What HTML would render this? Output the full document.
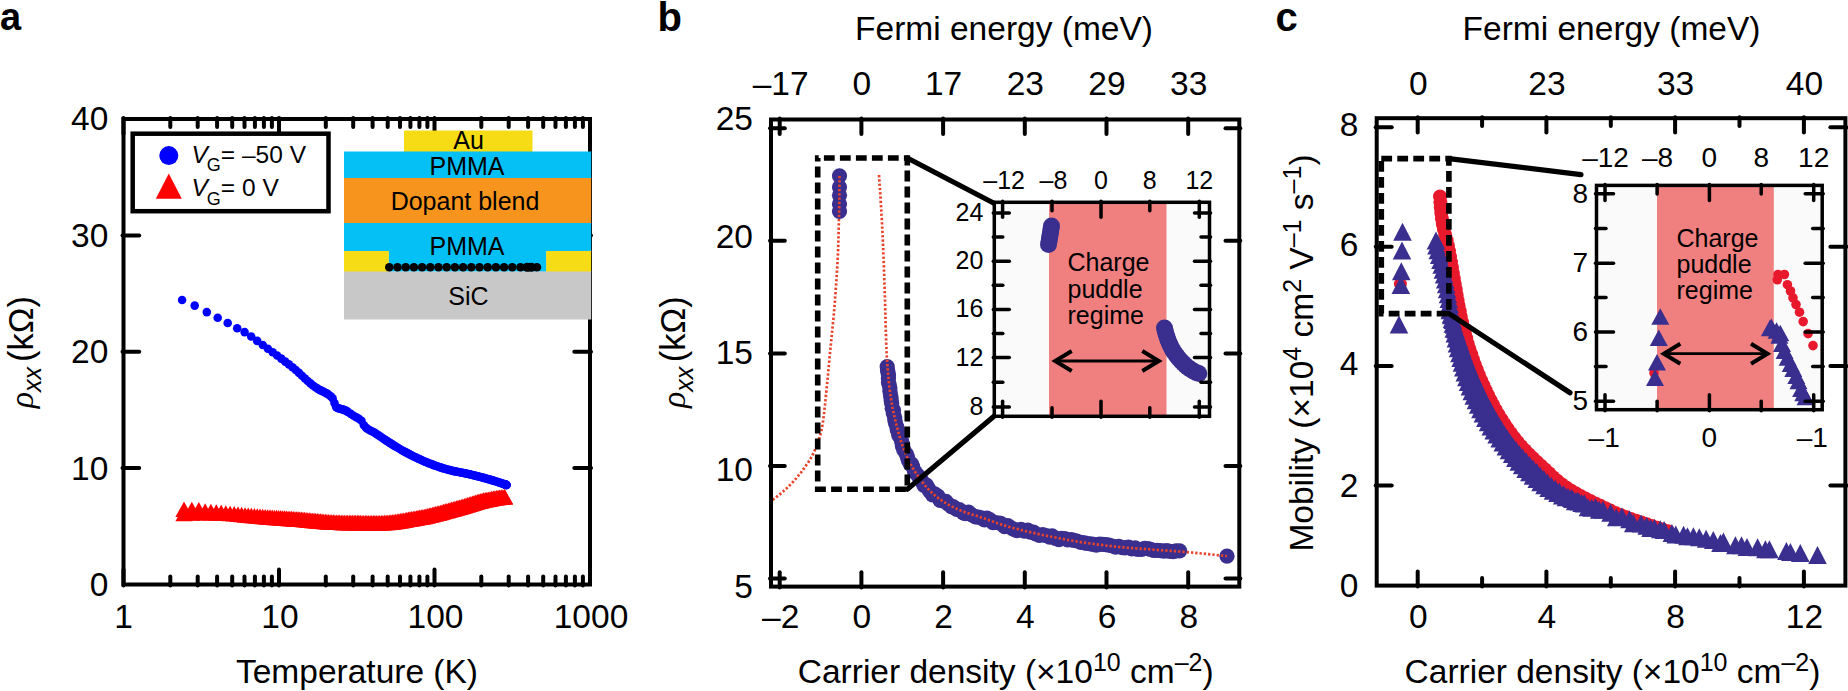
<!DOCTYPE html>
<html lang="en"><head><meta charset="utf-8"><title>Figure</title>
<style>html,body{margin:0;padding:0;background:#fff}svg{display:block}text{font-family:"Liberation Sans",sans-serif;fill:#000}.b{font-weight:bold}.i{font-style:italic}.s{font-family:"Liberation Serif",serif;font-style:italic}</style>
</head><body>
<svg width="1848" height="691" viewBox="0 0 1848 691">
<defs>
<path id="tr" d="M0,-7.75 L8.6,7.75 L-8.6,7.75 Z"/>
<path id="ts" d="M0,-8.5 L9,8 L-9,8 Z"/>
<circle id="cb" r="7.6"/>
<circle id="ci" r="8.5"/>
<circle id="cr" r="7"/>
<path id="tc" d="M0,-9 L9.3,9 L-9.3,9 Z"/>
<circle id="cs" r="4.8"/>
<circle id="ca" r="4.3"/>
</defs>
<rect width="1848" height="691" fill="#fff"/>
<text x="0" y="30" font-size="38" text-anchor="start" class="b">a</text>
<text x="657.5" y="30.5" font-size="40" text-anchor="start" class="b">b</text>
<text x="1275.5" y="30.5" font-size="40" text-anchor="start" class="b">c</text>
<g id="pa">
<g fill="#0000ff">
<use href="#ca" x="182.1" y="300"/>
<use href="#ca" x="194.7" y="305.6"/>
<use href="#ca" x="206.8" y="312.1"/>
<use href="#ca" x="217.7" y="317.8"/>
<use href="#ca" x="227.7" y="323"/>
<use href="#ca" x="237.2" y="328.2"/>
<use href="#ca" x="244.6" y="332.1"/>
<use href="#ca" x="251.2" y="336.5"/>
<use href="#ca" x="257.2" y="340.9"/>
<use href="#ca" x="262.8" y="345"/>
<use href="#ca" x="267.9" y="348.8"/>
<use href="#ca" x="272.7" y="352.3"/>
<use href="#ca" x="277.1" y="355.5"/>
<use href="#ca" x="281.3" y="358.6"/>
<use href="#ca" x="285.2" y="361.6"/>
<use href="#ca" x="288.9" y="364.4"/>
<use href="#ca" x="292.5" y="367.2"/>
<use href="#ca" x="295.8" y="370"/>
<use href="#ca" x="299" y="372.9"/>
<use href="#ca" x="302" y="375.8"/>
<use href="#ca" x="305" y="378.5"/>
<use href="#ca" x="307.7" y="381"/>
<use href="#ca" x="310.4" y="383.4"/>
<use href="#ca" x="313" y="385.5"/>
<use href="#ca" x="315.5" y="387.3"/>
<use href="#ca" x="317.9" y="388.9"/>
<use href="#ca" x="320.2" y="390.1"/>
<use href="#ca" x="322.4" y="391.1"/>
<use href="#ca" x="324.6" y="392.3"/>
<use href="#ca" x="326.7" y="393.4"/>
<use href="#ca" x="328.7" y="394.7"/>
<use href="#ca" x="330.7" y="396.2"/>
<use href="#ca" x="332.6" y="398.3"/>
<use href="#ca" x="334.5" y="403.1"/>
<use href="#ca" x="336.3" y="407.2"/>
<use href="#ca" x="338.1" y="408.1"/>
<use href="#ca" x="339.8" y="408.7"/>
<use href="#ca" x="341.5" y="409.1"/>
<use href="#ca" x="343.1" y="409.5"/>
<use href="#ca" x="344.7" y="410.1"/>
<use href="#ca" x="346.3" y="410.9"/>
<use href="#ca" x="347.8" y="411.9"/>
<use href="#ca" x="350.8" y="413.9"/>
<use href="#ca" x="353.6" y="415.8"/>
<use href="#ca" x="356.3" y="417.3"/>
<use href="#ca" x="358.9" y="418.7"/>
<use href="#ca" x="361.5" y="420.7"/>
<use href="#ca" x="363.9" y="425.2"/>
<use href="#ca" x="366.2" y="427.9"/>
<use href="#ca" x="368.5" y="429.5"/>
<use href="#ca" x="370.7" y="430.7"/>
<use href="#ca" x="372.8" y="431.8"/>
<use href="#ca" x="374.9" y="432.9"/>
<use href="#ca" x="376.9" y="434.2"/>
<use href="#ca" x="378.8" y="435.5"/>
<use href="#ca" x="380.7" y="436.7"/>
<use href="#ca" x="382.5" y="438"/>
<use href="#ca" x="384.3" y="439.2"/>
<use href="#ca" x="386" y="440.4"/>
<use href="#ca" x="387.7" y="441.5"/>
<use href="#ca" x="389.4" y="442.6"/>
<use href="#ca" x="391" y="443.6"/>
<use href="#ca" x="392.6" y="444.6"/>
<use href="#ca" x="394.1" y="445.6"/>
<use href="#ca" x="395.6" y="446.5"/>
<use href="#ca" x="397.8" y="447.8"/>
<use href="#ca" x="399.9" y="449"/>
<use href="#ca" x="402" y="450.2"/>
<use href="#ca" x="404" y="451.4"/>
<use href="#ca" x="406" y="452.4"/>
<use href="#ca" x="407.8" y="453.4"/>
<use href="#ca" x="409.7" y="454.4"/>
<use href="#ca" x="411.5" y="455.3"/>
<use href="#ca" x="413.2" y="456.2"/>
<use href="#ca" x="414.9" y="457"/>
<use href="#ca" x="416.6" y="457.8"/>
<use href="#ca" x="418.2" y="458.6"/>
<use href="#ca" x="419.8" y="459.3"/>
<use href="#ca" x="421.3" y="460"/>
<use href="#ca" x="422.8" y="460.7"/>
<use href="#ca" x="424.8" y="461.6"/>
<use href="#ca" x="426.7" y="462.3"/>
<use href="#ca" x="428.5" y="463.1"/>
<use href="#ca" x="430.4" y="463.8"/>
<use href="#ca" x="432.1" y="464.4"/>
<use href="#ca" x="433.8" y="465.1"/>
<use href="#ca" x="435.5" y="465.7"/>
<use href="#ca" x="437.1" y="466.3"/>
<use href="#ca" x="438.7" y="466.8"/>
<use href="#ca" x="440.3" y="467.4"/>
<use href="#ca" x="441.8" y="467.9"/>
<use href="#ca" x="443.6" y="468.4"/>
<use href="#ca" x="445.5" y="469"/>
<use href="#ca" x="447.2" y="469.5"/>
<use href="#ca" x="448.9" y="469.9"/>
<use href="#ca" x="450.6" y="470.3"/>
<use href="#ca" x="452.2" y="470.7"/>
<use href="#ca" x="453.8" y="471.1"/>
<use href="#ca" x="455.4" y="471.4"/>
<use href="#ca" x="456.9" y="471.7"/>
<use href="#ca" x="458.7" y="472"/>
<use href="#ca" x="460.4" y="472.4"/>
<use href="#ca" x="462.1" y="472.7"/>
<use href="#ca" x="463.7" y="473"/>
<use href="#ca" x="465.4" y="473.4"/>
<use href="#ca" x="466.9" y="473.7"/>
<use href="#ca" x="468.5" y="474"/>
<use href="#ca" x="470" y="474.4"/>
<use href="#ca" x="471.7" y="474.8"/>
<use href="#ca" x="473.3" y="475.2"/>
<use href="#ca" x="475" y="475.6"/>
<use href="#ca" x="476.6" y="476"/>
<use href="#ca" x="478.1" y="476.4"/>
<use href="#ca" x="479.6" y="476.8"/>
<use href="#ca" x="481.3" y="477.2"/>
<use href="#ca" x="483" y="477.6"/>
<use href="#ca" x="484.6" y="478.1"/>
<use href="#ca" x="486.2" y="478.5"/>
<use href="#ca" x="487.7" y="479"/>
<use href="#ca" x="489.2" y="479.4"/>
<use href="#ca" x="490.9" y="479.9"/>
<use href="#ca" x="492.5" y="480.4"/>
<use href="#ca" x="494.1" y="480.9"/>
<use href="#ca" x="495.6" y="481.3"/>
<use href="#ca" x="497.1" y="481.8"/>
<use href="#ca" x="498.8" y="482.4"/>
<use href="#ca" x="500.4" y="482.9"/>
<use href="#ca" x="501.9" y="483.4"/>
<use href="#ca" x="503.4" y="483.9"/>
<use href="#ca" x="505.1" y="484.5"/>
<use href="#ca" x="505.5" y="484.7"/>
<use href="#ca" x="505.7" y="484.7"/>
<use href="#ca" x="505.8" y="484.8"/>
<use href="#ca" x="506" y="484.8"/>
<use href="#ca" x="506.1" y="484.9"/>
<use href="#ca" x="506.3" y="484.9"/>
<use href="#ca" x="506.4" y="485"/>
<use href="#ca" x="506.5" y="485"/>
</g>
<g fill="#ff0000">
<use href="#tr" x="184" y="509.2"/>
<use href="#tr" x="184" y="513.5"/>
<use href="#tr" x="191.8" y="509.4"/>
<use href="#tr" x="191.8" y="513.1"/>
<use href="#tr" x="198.8" y="509.7"/>
<use href="#tr" x="198.8" y="512.8"/>
<use href="#tr" x="205.1" y="511.1"/>
<use href="#tr" x="205.1" y="512.8"/>
<use href="#tr" x="210.9" y="511.5"/>
<use href="#tr" x="210.9" y="512.8"/>
<use href="#tr" x="216.3" y="512.1"/>
<use href="#tr" x="216.3" y="513"/>
<use href="#tr" x="221.2" y="512.6"/>
<use href="#tr" x="221.2" y="513.1"/>
<use href="#tr" x="225.8" y="513"/>
<use href="#tr" x="230.1" y="513.4"/>
<use href="#tr" x="234.2" y="513.8"/>
<use href="#tr" x="238" y="514.2"/>
<use href="#tr" x="241.6" y="514.6"/>
<use href="#tr" x="245.1" y="514.9"/>
<use href="#tr" x="248.3" y="515.2"/>
<use href="#tr" x="251.4" y="515.5"/>
<use href="#tr" x="254.4" y="515.8"/>
<use href="#tr" x="257.3" y="516"/>
<use href="#tr" x="260" y="516.3"/>
<use href="#tr" x="262.6" y="516.5"/>
<use href="#tr" x="265.2" y="516.7"/>
<use href="#tr" x="267.6" y="516.9"/>
<use href="#tr" x="270" y="517"/>
<use href="#tr" x="272.3" y="517.2"/>
<use href="#tr" x="274.5" y="517.4"/>
<use href="#tr" x="276.6" y="517.5"/>
<use href="#tr" x="278.7" y="517.7"/>
<use href="#tr" x="280.7" y="517.8"/>
<use href="#tr" x="282.6" y="518"/>
<use href="#tr" x="284.5" y="518.1"/>
<use href="#tr" x="286.3" y="518.2"/>
<use href="#tr" x="288.1" y="518.4"/>
<use href="#tr" x="289.9" y="518.5"/>
<use href="#tr" x="291.6" y="518.6"/>
<use href="#tr" x="293.3" y="518.7"/>
<use href="#tr" x="294.9" y="518.9"/>
<use href="#tr" x="296.5" y="519"/>
<use href="#tr" x="298.1" y="519.1"/>
<use href="#tr" x="299.7" y="519.2"/>
<use href="#tr" x="301.3" y="519.3"/>
<use href="#tr" x="302.9" y="519.5"/>
<use href="#tr" x="304.5" y="519.6"/>
<use href="#tr" x="306.1" y="519.8"/>
<use href="#tr" x="307.7" y="519.9"/>
<use href="#tr" x="309.3" y="520.1"/>
<use href="#tr" x="310.9" y="520.2"/>
<use href="#tr" x="312.5" y="520.4"/>
<use href="#tr" x="314.1" y="520.5"/>
<use href="#tr" x="315.7" y="520.7"/>
<use href="#tr" x="317.3" y="520.8"/>
<use href="#tr" x="318.9" y="521"/>
<use href="#tr" x="320.5" y="521.1"/>
<use href="#tr" x="322.1" y="521.3"/>
<use href="#tr" x="323.7" y="521.4"/>
<use href="#tr" x="325.3" y="521.6"/>
<use href="#tr" x="326.9" y="521.7"/>
<use href="#tr" x="328.5" y="521.8"/>
<use href="#tr" x="330.1" y="521.9"/>
<use href="#tr" x="331.7" y="522"/>
<use href="#tr" x="333.3" y="522.1"/>
<use href="#tr" x="334.9" y="522.2"/>
<use href="#tr" x="336.5" y="522.3"/>
<use href="#tr" x="338.1" y="522.3"/>
<use href="#tr" x="339.7" y="522.3"/>
<use href="#tr" x="341.3" y="522.4"/>
<use href="#tr" x="342.9" y="522.4"/>
<use href="#tr" x="344.5" y="522.4"/>
<use href="#tr" x="346.1" y="522.5"/>
<use href="#tr" x="347.7" y="522.5"/>
<use href="#tr" x="349.3" y="522.5"/>
<use href="#tr" x="350.9" y="522.5"/>
<use href="#tr" x="352.5" y="522.6"/>
<use href="#tr" x="354.1" y="522.6"/>
<use href="#tr" x="355.7" y="522.6"/>
<use href="#tr" x="357.3" y="522.6"/>
<use href="#tr" x="358.9" y="522.6"/>
<use href="#tr" x="360.5" y="522.6"/>
<use href="#tr" x="362.1" y="522.7"/>
<use href="#tr" x="363.7" y="522.7"/>
<use href="#tr" x="365.3" y="522.7"/>
<use href="#tr" x="366.9" y="522.7"/>
<use href="#tr" x="368.5" y="522.7"/>
<use href="#tr" x="370.1" y="522.7"/>
<use href="#tr" x="371.7" y="522.7"/>
<use href="#tr" x="373.3" y="522.7"/>
<use href="#tr" x="374.9" y="522.7"/>
<use href="#tr" x="376.5" y="522.7"/>
<use href="#tr" x="378.1" y="522.7"/>
<use href="#tr" x="379.7" y="522.7"/>
<use href="#tr" x="381.3" y="522.7"/>
<use href="#tr" x="382.9" y="522.7"/>
<use href="#tr" x="384.5" y="522.6"/>
<use href="#tr" x="386.1" y="522.5"/>
<use href="#tr" x="387.7" y="522.4"/>
<use href="#tr" x="389.3" y="522.2"/>
<use href="#tr" x="390.9" y="522"/>
<use href="#tr" x="392.5" y="521.9"/>
<use href="#tr" x="394.1" y="521.7"/>
<use href="#tr" x="395.7" y="521.4"/>
<use href="#tr" x="397.3" y="521.2"/>
<use href="#tr" x="398.9" y="521"/>
<use href="#tr" x="400.5" y="520.7"/>
<use href="#tr" x="402.1" y="520.5"/>
<use href="#tr" x="403.7" y="520.2"/>
<use href="#tr" x="405.3" y="519.9"/>
<use href="#tr" x="406.9" y="519.6"/>
<use href="#tr" x="408.5" y="519.3"/>
<use href="#tr" x="410.1" y="519"/>
<use href="#tr" x="411.7" y="518.8"/>
<use href="#tr" x="413.3" y="518.5"/>
<use href="#tr" x="414.9" y="518.2"/>
<use href="#tr" x="416.5" y="517.9"/>
<use href="#tr" x="418.1" y="517.6"/>
<use href="#tr" x="419.7" y="517.3"/>
<use href="#tr" x="421.3" y="517"/>
<use href="#tr" x="422.9" y="516.7"/>
<use href="#tr" x="424.5" y="516.4"/>
<use href="#tr" x="426.1" y="516"/>
<use href="#tr" x="427.7" y="515.7"/>
<use href="#tr" x="429.3" y="515.3"/>
<use href="#tr" x="430.9" y="514.9"/>
<use href="#tr" x="432.5" y="514.5"/>
<use href="#tr" x="434.1" y="514.1"/>
<use href="#tr" x="435.7" y="513.7"/>
<use href="#tr" x="437.3" y="513.3"/>
<use href="#tr" x="438.9" y="512.9"/>
<use href="#tr" x="440.5" y="512.4"/>
<use href="#tr" x="442.1" y="512"/>
<use href="#tr" x="443.7" y="511.5"/>
<use href="#tr" x="445.3" y="511.1"/>
<use href="#tr" x="446.9" y="510.7"/>
<use href="#tr" x="448.5" y="510.2"/>
<use href="#tr" x="450.1" y="509.8"/>
<use href="#tr" x="451.7" y="509.3"/>
<use href="#tr" x="453.3" y="508.9"/>
<use href="#tr" x="454.9" y="508.5"/>
<use href="#tr" x="456.5" y="508"/>
<use href="#tr" x="458.1" y="507.6"/>
<use href="#tr" x="459.7" y="507.2"/>
<use href="#tr" x="461.3" y="506.7"/>
<use href="#tr" x="462.9" y="506.2"/>
<use href="#tr" x="464.5" y="505.7"/>
<use href="#tr" x="466.1" y="505.2"/>
<use href="#tr" x="467.7" y="504.7"/>
<use href="#tr" x="469.3" y="504.2"/>
<use href="#tr" x="470.9" y="503.7"/>
<use href="#tr" x="472.5" y="503.2"/>
<use href="#tr" x="474.1" y="502.7"/>
<use href="#tr" x="475.7" y="502.3"/>
<use href="#tr" x="477.3" y="501.8"/>
<use href="#tr" x="478.9" y="501.3"/>
<use href="#tr" x="480.5" y="500.9"/>
<use href="#tr" x="482.1" y="500.5"/>
<use href="#tr" x="483.7" y="500.1"/>
<use href="#tr" x="485.3" y="499.8"/>
<use href="#tr" x="486.9" y="499.5"/>
<use href="#tr" x="488.5" y="499.2"/>
<use href="#tr" x="490.1" y="498.9"/>
<use href="#tr" x="491.7" y="498.6"/>
<use href="#tr" x="493.3" y="498.3"/>
<use href="#tr" x="494.9" y="498.1"/>
<use href="#tr" x="496.5" y="497.8"/>
<use href="#tr" x="498.1" y="497.6"/>
<use href="#tr" x="499.7" y="497.3"/>
<use href="#tr" x="501.3" y="497.1"/>
<use href="#tr" x="502.9" y="496.9"/>
<use href="#tr" x="504.5" y="496.8"/>
<use href="#tr" x="504.6" y="496.8"/>
</g>
<rect x="123.5" y="119" width="466.5" height="465.5" fill="none" stroke="#000" stroke-width="4"/>
<line x1="123.5" y1="585.5" x2="123.5" y2="569.5" stroke="#000" stroke-width="4" stroke-linecap="round"/>
<line x1="123.5" y1="118" x2="123.5" y2="134" stroke="#000" stroke-width="4" stroke-linecap="round"/>
<line x1="170.3" y1="585.5" x2="170.3" y2="576.5" stroke="#000" stroke-width="4" stroke-linecap="round"/>
<line x1="170.3" y1="118" x2="170.3" y2="127" stroke="#000" stroke-width="4" stroke-linecap="round"/>
<line x1="197.7" y1="585.5" x2="197.7" y2="576.5" stroke="#000" stroke-width="4" stroke-linecap="round"/>
<line x1="197.7" y1="118" x2="197.7" y2="127" stroke="#000" stroke-width="4" stroke-linecap="round"/>
<line x1="217.1" y1="585.5" x2="217.1" y2="576.5" stroke="#000" stroke-width="4" stroke-linecap="round"/>
<line x1="217.1" y1="118" x2="217.1" y2="127" stroke="#000" stroke-width="4" stroke-linecap="round"/>
<line x1="232.2" y1="585.5" x2="232.2" y2="576.5" stroke="#000" stroke-width="4" stroke-linecap="round"/>
<line x1="232.2" y1="118" x2="232.2" y2="127" stroke="#000" stroke-width="4" stroke-linecap="round"/>
<line x1="244.5" y1="585.5" x2="244.5" y2="576.5" stroke="#000" stroke-width="4" stroke-linecap="round"/>
<line x1="244.5" y1="118" x2="244.5" y2="127" stroke="#000" stroke-width="4" stroke-linecap="round"/>
<line x1="254.9" y1="585.5" x2="254.9" y2="576.5" stroke="#000" stroke-width="4" stroke-linecap="round"/>
<line x1="254.9" y1="118" x2="254.9" y2="127" stroke="#000" stroke-width="4" stroke-linecap="round"/>
<line x1="263.9" y1="585.5" x2="263.9" y2="576.5" stroke="#000" stroke-width="4" stroke-linecap="round"/>
<line x1="263.9" y1="118" x2="263.9" y2="127" stroke="#000" stroke-width="4" stroke-linecap="round"/>
<line x1="271.9" y1="585.5" x2="271.9" y2="576.5" stroke="#000" stroke-width="4" stroke-linecap="round"/>
<line x1="271.9" y1="118" x2="271.9" y2="127" stroke="#000" stroke-width="4" stroke-linecap="round"/>
<line x1="279" y1="585.5" x2="279" y2="569.5" stroke="#000" stroke-width="4" stroke-linecap="round"/>
<line x1="279" y1="118" x2="279" y2="134" stroke="#000" stroke-width="4" stroke-linecap="round"/>
<line x1="325.8" y1="585.5" x2="325.8" y2="576.5" stroke="#000" stroke-width="4" stroke-linecap="round"/>
<line x1="325.8" y1="118" x2="325.8" y2="127" stroke="#000" stroke-width="4" stroke-linecap="round"/>
<line x1="353.2" y1="585.5" x2="353.2" y2="576.5" stroke="#000" stroke-width="4" stroke-linecap="round"/>
<line x1="353.2" y1="118" x2="353.2" y2="127" stroke="#000" stroke-width="4" stroke-linecap="round"/>
<line x1="372.6" y1="585.5" x2="372.6" y2="576.5" stroke="#000" stroke-width="4" stroke-linecap="round"/>
<line x1="372.6" y1="118" x2="372.6" y2="127" stroke="#000" stroke-width="4" stroke-linecap="round"/>
<line x1="387.7" y1="585.5" x2="387.7" y2="576.5" stroke="#000" stroke-width="4" stroke-linecap="round"/>
<line x1="387.7" y1="118" x2="387.7" y2="127" stroke="#000" stroke-width="4" stroke-linecap="round"/>
<line x1="400" y1="585.5" x2="400" y2="576.5" stroke="#000" stroke-width="4" stroke-linecap="round"/>
<line x1="400" y1="118" x2="400" y2="127" stroke="#000" stroke-width="4" stroke-linecap="round"/>
<line x1="410.4" y1="585.5" x2="410.4" y2="576.5" stroke="#000" stroke-width="4" stroke-linecap="round"/>
<line x1="410.4" y1="118" x2="410.4" y2="127" stroke="#000" stroke-width="4" stroke-linecap="round"/>
<line x1="419.4" y1="585.5" x2="419.4" y2="576.5" stroke="#000" stroke-width="4" stroke-linecap="round"/>
<line x1="419.4" y1="118" x2="419.4" y2="127" stroke="#000" stroke-width="4" stroke-linecap="round"/>
<line x1="427.4" y1="585.5" x2="427.4" y2="576.5" stroke="#000" stroke-width="4" stroke-linecap="round"/>
<line x1="427.4" y1="118" x2="427.4" y2="127" stroke="#000" stroke-width="4" stroke-linecap="round"/>
<line x1="434.5" y1="585.5" x2="434.5" y2="569.5" stroke="#000" stroke-width="4" stroke-linecap="round"/>
<line x1="434.5" y1="118" x2="434.5" y2="134" stroke="#000" stroke-width="4" stroke-linecap="round"/>
<line x1="481.3" y1="585.5" x2="481.3" y2="576.5" stroke="#000" stroke-width="4" stroke-linecap="round"/>
<line x1="481.3" y1="118" x2="481.3" y2="127" stroke="#000" stroke-width="4" stroke-linecap="round"/>
<line x1="508.7" y1="585.5" x2="508.7" y2="576.5" stroke="#000" stroke-width="4" stroke-linecap="round"/>
<line x1="508.7" y1="118" x2="508.7" y2="127" stroke="#000" stroke-width="4" stroke-linecap="round"/>
<line x1="528.1" y1="585.5" x2="528.1" y2="576.5" stroke="#000" stroke-width="4" stroke-linecap="round"/>
<line x1="528.1" y1="118" x2="528.1" y2="127" stroke="#000" stroke-width="4" stroke-linecap="round"/>
<line x1="543.2" y1="585.5" x2="543.2" y2="576.5" stroke="#000" stroke-width="4" stroke-linecap="round"/>
<line x1="543.2" y1="118" x2="543.2" y2="127" stroke="#000" stroke-width="4" stroke-linecap="round"/>
<line x1="555.5" y1="585.5" x2="555.5" y2="576.5" stroke="#000" stroke-width="4" stroke-linecap="round"/>
<line x1="555.5" y1="118" x2="555.5" y2="127" stroke="#000" stroke-width="4" stroke-linecap="round"/>
<line x1="565.9" y1="585.5" x2="565.9" y2="576.5" stroke="#000" stroke-width="4" stroke-linecap="round"/>
<line x1="565.9" y1="118" x2="565.9" y2="127" stroke="#000" stroke-width="4" stroke-linecap="round"/>
<line x1="574.9" y1="585.5" x2="574.9" y2="576.5" stroke="#000" stroke-width="4" stroke-linecap="round"/>
<line x1="574.9" y1="118" x2="574.9" y2="127" stroke="#000" stroke-width="4" stroke-linecap="round"/>
<line x1="582.9" y1="585.5" x2="582.9" y2="576.5" stroke="#000" stroke-width="4" stroke-linecap="round"/>
<line x1="582.9" y1="118" x2="582.9" y2="127" stroke="#000" stroke-width="4" stroke-linecap="round"/>
<line x1="122.5" y1="468.1" x2="139.2" y2="468.1" stroke="#000" stroke-width="4" stroke-linecap="round"/>
<line x1="591" y1="468.1" x2="574.3" y2="468.1" stroke="#000" stroke-width="4" stroke-linecap="round"/>
<line x1="122.5" y1="351.8" x2="139.2" y2="351.8" stroke="#000" stroke-width="4" stroke-linecap="round"/>
<line x1="591" y1="351.8" x2="574.3" y2="351.8" stroke="#000" stroke-width="4" stroke-linecap="round"/>
<line x1="122.5" y1="235.4" x2="139.2" y2="235.4" stroke="#000" stroke-width="4" stroke-linecap="round"/>
<line x1="591" y1="235.4" x2="574.3" y2="235.4" stroke="#000" stroke-width="4" stroke-linecap="round"/>
<rect x="404" y="130.5" width="128.5" height="21.5" fill="#f5dc14"/>
<rect x="344" y="151.5" width="247.2" height="27" fill="#05c0f5"/>
<rect x="344" y="178" width="247.2" height="45.5" fill="#f7941d"/>
<rect x="344" y="223" width="247.2" height="28.5" fill="#05c0f5"/>
<rect x="388.5" y="250" width="158" height="21.7" fill="#05c0f5"/>
<rect x="344" y="251" width="44.8" height="21" fill="#f5dc14"/>
<rect x="546.2" y="251" width="45" height="21" fill="#f5dc14"/>
<rect x="344" y="271.5" width="247.2" height="48" fill="#c8c8c8"/>
<g fill="#000">
<circle cx="389.3" cy="267.3" r="4.3"/>
<circle cx="397.5" cy="267.3" r="4.3"/>
<circle cx="405.7" cy="267.3" r="4.3"/>
<circle cx="413.9" cy="267.3" r="4.3"/>
<circle cx="422.1" cy="267.3" r="4.3"/>
<circle cx="430.3" cy="267.3" r="4.3"/>
<circle cx="438.5" cy="267.3" r="4.3"/>
<circle cx="446.7" cy="267.3" r="4.3"/>
<circle cx="454.9" cy="267.3" r="4.3"/>
<circle cx="463.1" cy="267.3" r="4.3"/>
<circle cx="471.3" cy="267.3" r="4.3"/>
<circle cx="479.5" cy="267.3" r="4.3"/>
<circle cx="487.7" cy="267.3" r="4.3"/>
<circle cx="495.9" cy="267.3" r="4.3"/>
<circle cx="504.1" cy="267.3" r="4.3"/>
<circle cx="512.3" cy="267.3" r="4.3"/>
<circle cx="520.5" cy="267.3" r="4.3"/>
<circle cx="528.7" cy="267.3" r="4.3"/>
<circle cx="536.9" cy="267.3" r="4.3"/>
<circle cx="527" cy="267.3" r="4.5"/>
<circle cx="531.5" cy="267.3" r="4.5"/>
</g>
<text x="468.5" y="149" font-size="25" text-anchor="middle">Au</text>
<text x="467" y="175" font-size="25" text-anchor="middle">PMMA</text>
<text x="465" y="210" font-size="25" text-anchor="middle">Dopant blend</text>
<text x="467" y="255" font-size="25" text-anchor="middle">PMMA</text>
<text x="468.5" y="305" font-size="25" text-anchor="middle">SiC</text>
<text x="108.3" y="595.9" font-size="33.5" text-anchor="end">0</text>
<text x="108.3" y="479.5" font-size="33.5" text-anchor="end">10</text>
<text x="108.3" y="363.1" font-size="33.5" text-anchor="end">20</text>
<text x="108.3" y="246.8" font-size="33.5" text-anchor="end">30</text>
<text x="108.3" y="130.4" font-size="33.5" text-anchor="end">40</text>
<text x="123.5" y="627.7" font-size="33.5" text-anchor="middle">1</text>
<text x="280" y="627.7" font-size="33.5" text-anchor="middle">10</text>
<text x="435.5" y="627.7" font-size="33.5" text-anchor="middle">100</text>
<text x="591" y="627.7" font-size="33.5" text-anchor="middle">1000</text>
<text x="357" y="682.5" font-size="33.5" text-anchor="middle">Temperature (K)</text>
<text transform="translate(32.7,352.1) rotate(-90)" font-size="34.5" text-anchor="middle"><tspan class="s" font-size="34">ρ</tspan><tspan class="i" font-size="25" dy="8">xx</tspan><tspan dy="-8" dx="5">(kΩ)</tspan></text>
<rect x="132.7" y="133.7" width="195.8" height="77.5" fill="#fff" stroke="#000" stroke-width="4.5"/>
<circle cx="168.8" cy="155.6" r="9.5" fill="#0000ff"/>
<path d="M168.8,173.5 L181.8,198.7 L155.8,198.7 Z" fill="#ff0000"/>
<text x="191.5" y="162.8" font-size="24.5"><tspan class="i">V</tspan><tspan font-size="18" dy="8.5" dx="-1">G</tspan><tspan dy="-8.5">= –50 V</tspan></text>
<text x="191.5" y="196.3" font-size="24.5"><tspan class="i">V</tspan><tspan font-size="18" dy="8.5" dx="-1">G</tspan><tspan dy="-8.5">= 0 V</tspan></text>
</g>
<g id="pb">
<g fill="#3a2f8f">
<use href="#cb" x="839.5" y="175.8"/>
<use href="#cb" x="839.5" y="187"/>
<use href="#cb" x="839.5" y="195.3"/>
<use href="#cb" x="839.5" y="204"/>
<use href="#cb" x="839.5" y="211.5"/>
<use href="#cb" x="887.2" y="366.7"/>
<use href="#cb" x="887.5" y="370"/>
<use href="#cb" x="888" y="372.6"/>
<use href="#cb" x="888.5" y="375.6"/>
<use href="#cb" x="888.4" y="378.2"/>
<use href="#cb" x="888.5" y="382.4"/>
<use href="#cb" x="889.1" y="384.6"/>
<use href="#cb" x="889.9" y="388"/>
<use href="#cb" x="889.9" y="391.2"/>
<use href="#cb" x="890.5" y="394.9"/>
<use href="#cb" x="891" y="397.5"/>
<use href="#cb" x="891.2" y="400.7"/>
<use href="#cb" x="891.7" y="403.6"/>
<use href="#cb" x="892.2" y="408.3"/>
<use href="#cb" x="893.5" y="410"/>
<use href="#cb" x="893.3" y="413.2"/>
<use href="#cb" x="894.7" y="417.4"/>
<use href="#cb" x="894.8" y="420.1"/>
<use href="#cb" x="895.5" y="423.1"/>
<use href="#cb" x="896.9" y="427.1"/>
<use href="#cb" x="897.3" y="429.9"/>
<use href="#cb" x="898.7" y="433.2"/>
<use href="#cb" x="898.8" y="435.5"/>
<use href="#cb" x="901" y="438.3"/>
<use href="#cb" x="901.7" y="441.8"/>
<use href="#cb" x="902.6" y="444.7"/>
<use href="#cb" x="902.5" y="446.4"/>
<use href="#cb" x="903.8" y="450"/>
<use href="#cb" x="906.4" y="454.2"/>
<use href="#cb" x="907.4" y="456.9"/>
<use href="#cb" x="908.4" y="460.6"/>
<use href="#cb" x="910.3" y="463.8"/>
<use href="#cb" x="911.7" y="464"/>
<use href="#cb" x="912.6" y="466.6"/>
<use href="#cb" x="914.5" y="471.8"/>
<use href="#cb" x="915.5" y="472.5"/>
<use href="#cb" x="917.8" y="475.4"/>
<use href="#cb" x="920.3" y="478.3"/>
<use href="#cb" x="922" y="481.4"/>
<use href="#cb" x="923.9" y="485.4"/>
<use href="#cb" x="926.5" y="485.2"/>
<use href="#cb" x="928.4" y="488.3"/>
<use href="#cb" x="929.5" y="490.8"/>
<use href="#cb" x="932.5" y="494.8"/>
<use href="#cb" x="934.7" y="493.9"/>
<use href="#cb" x="938" y="496.2"/>
<use href="#cb" x="940" y="500.5"/>
<use href="#cb" x="942.7" y="501"/>
<use href="#cb" x="945.9" y="501.3"/>
<use href="#cb" x="948.3" y="504.2"/>
<use href="#cb" x="951.8" y="507"/>
<use href="#cb" x="953.1" y="506.5"/>
<use href="#cb" x="956.7" y="509.5"/>
<use href="#cb" x="959.4" y="509.7"/>
<use href="#cb" x="963.3" y="512.8"/>
<use href="#cb" x="965.5" y="513.7"/>
<use href="#cb" x="968.5" y="512.1"/>
<use href="#cb" x="971.8" y="514.9"/>
<use href="#cb" x="975.5" y="516.9"/>
<use href="#cb" x="978.4" y="517.1"/>
<use href="#cb" x="981.3" y="517.9"/>
<use href="#cb" x="984.5" y="519.9"/>
<use href="#cb" x="986.9" y="518.1"/>
<use href="#cb" x="989.7" y="519.6"/>
<use href="#cb" x="992.9" y="522.6"/>
<use href="#cb" x="995.4" y="522.5"/>
<use href="#cb" x="999.7" y="523"/>
<use href="#cb" x="1001.5" y="523.9"/>
<use href="#cb" x="1004.6" y="526.7"/>
<use href="#cb" x="1007.9" y="525.6"/>
<use href="#cb" x="1012" y="528.4"/>
<use href="#cb" x="1014.7" y="529.6"/>
<use href="#cb" x="1017" y="530.6"/>
<use href="#cb" x="1020.9" y="529.3"/>
<use href="#cb" x="1024.4" y="531.2"/>
<use href="#cb" x="1027.8" y="530.2"/>
<use href="#cb" x="1030.3" y="532.1"/>
<use href="#cb" x="1033.5" y="532.1"/>
<use href="#cb" x="1035.7" y="533.8"/>
<use href="#cb" x="1039.3" y="535.5"/>
<use href="#cb" x="1042.6" y="534.7"/>
<use href="#cb" x="1046.1" y="535.7"/>
<use href="#cb" x="1049.7" y="537.2"/>
<use href="#cb" x="1052.1" y="535.9"/>
<use href="#cb" x="1055.5" y="538.3"/>
<use href="#cb" x="1058.9" y="539.6"/>
<use href="#cb" x="1061.2" y="538.4"/>
<use href="#cb" x="1064.7" y="538.7"/>
<use href="#cb" x="1067.7" y="539.8"/>
<use href="#cb" x="1071.2" y="539.7"/>
<use href="#cb" x="1073.7" y="540.4"/>
<use href="#cb" x="1076.8" y="541"/>
<use href="#cb" x="1080.9" y="542.4"/>
<use href="#cb" x="1084.6" y="542.8"/>
<use href="#cb" x="1087" y="543.5"/>
<use href="#cb" x="1090.5" y="543.9"/>
<use href="#cb" x="1093.4" y="544.3"/>
<use href="#cb" x="1096.3" y="545.2"/>
<use href="#cb" x="1099.8" y="544.2"/>
<use href="#cb" x="1102.6" y="544.4"/>
<use href="#cb" x="1105.9" y="544.7"/>
<use href="#cb" x="1108.9" y="545.1"/>
<use href="#cb" x="1112.2" y="546"/>
<use href="#cb" x="1115.7" y="547.1"/>
<use href="#cb" x="1118.9" y="546.3"/>
<use href="#cb" x="1122.4" y="547.7"/>
<use href="#cb" x="1125.2" y="547.8"/>
<use href="#cb" x="1128.4" y="547.2"/>
<use href="#cb" x="1131.8" y="548.9"/>
<use href="#cb" x="1135.1" y="547.8"/>
<use href="#cb" x="1137.7" y="549.3"/>
<use href="#cb" x="1141.6" y="549.3"/>
<use href="#cb" x="1144.7" y="548.4"/>
<use href="#cb" x="1147.9" y="548.7"/>
<use href="#cb" x="1150.5" y="549.3"/>
<use href="#cb" x="1153.6" y="550.3"/>
<use href="#cb" x="1157" y="550.4"/>
<use href="#cb" x="1160.5" y="550.7"/>
<use href="#cb" x="1163.8" y="551.2"/>
<use href="#cb" x="1166.8" y="550.6"/>
<use href="#cb" x="1169.9" y="551.3"/>
<use href="#cb" x="1173.1" y="551.6"/>
<use href="#cb" x="1176.1" y="550.8"/>
<use href="#cb" x="1179.6" y="550.8"/>
<use href="#cb" x="1227" y="556.2"/>
</g>
<polyline fill="none" stroke="#e8432a" stroke-width="2.7" stroke-dasharray="2.3 2" points="839.5,176 839.5,180 839.5,184.1 839.4,188.1 839.4,192.1 839.4,196.1 839.3,200.2 839.2,204.2 839.2,208.2 839.1,212.2 839,216.3 838.9,220.3 838.8,224.3 838.7,228.3 838.6,232.4 838.5,236.4 838.4,240.4 838.3,244.4 838.1,248.4 838,252.5 837.8,256.5 837.6,260.5 837.4,264.5 837.1,268.6 836.9,272.6 836.6,276.6 836.4,280.6 836.1,284.6 835.8,288.6 835.5,292.7 835.2,296.7 835,300.7 834.6,304.7 834.3,308.7 834,312.7 833.6,316.7 833.2,320.7 832.8,324.7 832.4,328.8 832,332.8 831.6,336.8 831.2,340.8 830.8,344.8 830.4,348.8 830,352.8 829.6,356.8 829.3,360.8 828.9,364.8 828.5,368.8 828.2,372.8 827.8,376.8 827.4,380.8 827,384.9 826.6,388.9 826.2,392.9 825.8,396.9 825.4,400.9 825,404.9 824.5,408.9 824.1,412.9 823.6,416.9 823.1,420.9 822.5,424.8 821.7,428.8 820.9,432.7 819.8,436.6 818.6,440.5 817.3,444.3 815.8,448 814.2,451.7 812.4,455.3 810.4,458.8 808.3,462.2 806,465.5 803.7,468.8 801.3,472.1 798.8,475.2 796.2,478.3 793.5,481.3 790.8,484.2 787.9,487.1 785,489.8 782,492.5 778.9,495.1 775.7,497.6 772.5,500"/>
<polyline fill="none" stroke="#e8432a" stroke-width="2.7" stroke-dasharray="2.3 2" points="879,175 879.3,179 879.5,183 879.8,187 880.1,191 880.3,195 880.6,199 880.8,203 881.1,207 881.3,211 881.5,215 881.8,219 882,223.1 882.2,227.1 882.4,231.1 882.6,235.1 882.8,239.1 882.9,243.1 883.1,247.1 883.3,251.1 883.4,255.1 883.6,259.1 883.7,263.1 883.9,267.1 884,271.2 884.2,275.2 884.3,279.2 884.4,283.2 884.6,287.2 884.7,291.2 884.8,295.2 885,299.2 885.1,303.2 885.2,307.2 885.3,311.3 885.4,315.3 885.5,319.3 885.6,323.3 885.7,327.3 885.8,331.3 886,335.3 886.1,339.3 886.2,343.3 886.4,347.3 886.5,351.4 886.7,355.4 887,359.4 887.3,363.4 887.6,367.4 887.9,371.4 888.2,375.4 888.6,379.4 889,383.4 889.4,387.3 889.9,391.3 890.5,395.3 891.1,399.3 891.7,403.2 892.4,407.2 893.2,411.1 894.1,415 895,418.9 895.9,422.8 896.9,426.7 897.9,430.6 899,434.5 900.1,438.3 901.3,442.2 902.6,446 904,449.7 905.5,453.4 907.1,457.1 908.8,460.8 910.6,464.3 912.6,467.8 914.7,471.2 916.9,474.6 919.2,477.9 921.6,481.1 924,484.3 926.6,487.4 929.3,490.3 932.2,493.1 935.3,495.7 938.4,498.2 941.7,500.5 945.1,502.7 948.5,504.7 952.1,506.6 955.7,508.3 959.3,510 963,511.5 966.8,512.8 970.6,514.1 974.5,515.2 978.3,516.4 982.1,517.7 985.9,519 989.7,520.4 993.5,521.7 997.2,523.1 1001,524.4 1004.9,525.6 1008.7,526.7 1012.6,527.8 1016.5,528.8 1020.3,529.8 1024.2,530.8 1028.1,531.7 1032,532.6 1036,533.5 1039.9,534.4 1043.8,535.2 1047.7,536 1051.7,536.8 1055.6,537.5 1059.6,538.3 1063.5,539 1067.4,539.8 1071.4,540.5 1075.3,541.2 1079.3,541.9 1083.3,542.5 1087.2,543.1 1091.2,543.6 1095.2,544.2 1099.1,544.7 1103.1,545.2 1107.1,545.7 1111.1,546.1 1115.1,546.6 1119.1,547 1123.1,547.3 1127.1,547.7 1131.1,548 1135.1,548.3 1139.1,548.6 1143.1,548.9 1147.1,549.2 1151.1,549.5 1155.1,549.8 1159.1,550.1 1163.1,550.4 1167.1,550.6 1171.1,550.9 1175.1,551.2 1179.1,551.5 1183.1,551.8 1187.1,552.1 1191.1,552.5 1195.1,552.8 1199.1,553.2 1203.1,553.6 1207.1,554 1211.1,554.4 1215,554.8 1219,555.3 1223,555.7 1227,556.2"/>
<rect x="817.7" y="158" width="89.6" height="331.2" fill="none" stroke="#000" stroke-width="5.6" stroke-dasharray="10.8 5.2" stroke-dashoffset="9.8"/>
<line x1="907.3" y1="158" x2="994.5" y2="203.5" stroke="#000" stroke-width="5.2" stroke-linecap="round"/>
<line x1="907.3" y1="489.2" x2="994.3" y2="416" stroke="#000" stroke-width="5.2" stroke-linecap="round"/>
<rect x="994.3" y="202.3" width="215.2" height="214" fill="#fafafa"/>
<rect x="1049" y="202.3" width="117.5" height="214" fill="#f08080"/>
<g fill="#3a2f8f">
<use href="#ci" x="1051.5" y="226"/>
<use href="#ci" x="1051" y="229.1"/>
<use href="#ci" x="1050.5" y="232.2"/>
<use href="#ci" x="1050" y="235.2"/>
<use href="#ci" x="1049.5" y="238.3"/>
<use href="#ci" x="1049" y="241.4"/>
<use href="#ci" x="1048.5" y="244.5"/>
<use href="#ci" x="1164.5" y="328"/>
<use href="#ci" x="1165.2" y="331"/>
<use href="#ci" x="1166" y="334.1"/>
<use href="#ci" x="1167" y="337"/>
<use href="#ci" x="1168" y="340"/>
<use href="#ci" x="1169.2" y="342.9"/>
<use href="#ci" x="1170.5" y="345.7"/>
<use href="#ci" x="1171.9" y="348.5"/>
<use href="#ci" x="1173.5" y="351.2"/>
<use href="#ci" x="1175.2" y="353.8"/>
<use href="#ci" x="1177.1" y="356.3"/>
<use href="#ci" x="1179" y="358.7"/>
<use href="#ci" x="1181.1" y="361.1"/>
<use href="#ci" x="1183.3" y="363.3"/>
<use href="#ci" x="1185.6" y="365.5"/>
<use href="#ci" x="1187.9" y="367.5"/>
<use href="#ci" x="1190.5" y="369.3"/>
<use href="#ci" x="1193.2" y="370.9"/>
<use href="#ci" x="1195.9" y="372.4"/>
<use href="#ci" x="1198.8" y="373.6"/>
</g>
<rect x="994.3" y="202.3" width="215.2" height="214" fill="none" stroke="#000" stroke-width="3.5"/>
<line x1="993.3" y1="213" x2="1009.3" y2="213" stroke="#000" stroke-width="3.5" stroke-linecap="round"/>
<line x1="1210.5" y1="213" x2="1194.5" y2="213" stroke="#000" stroke-width="3.5" stroke-linecap="round"/>
<text x="983.3" y="221" font-size="25" text-anchor="end">24</text>
<line x1="993.3" y1="237.1" x2="1002.8" y2="237.1" stroke="#000" stroke-width="3.5" stroke-linecap="round"/>
<line x1="1210.5" y1="237.1" x2="1201" y2="237.1" stroke="#000" stroke-width="3.5" stroke-linecap="round"/>
<line x1="993.3" y1="261.2" x2="1009.3" y2="261.2" stroke="#000" stroke-width="3.5" stroke-linecap="round"/>
<line x1="1210.5" y1="261.2" x2="1194.5" y2="261.2" stroke="#000" stroke-width="3.5" stroke-linecap="round"/>
<text x="983.3" y="269.2" font-size="25" text-anchor="end">20</text>
<line x1="993.3" y1="285.3" x2="1002.8" y2="285.3" stroke="#000" stroke-width="3.5" stroke-linecap="round"/>
<line x1="1210.5" y1="285.3" x2="1201" y2="285.3" stroke="#000" stroke-width="3.5" stroke-linecap="round"/>
<line x1="993.3" y1="309.4" x2="1009.3" y2="309.4" stroke="#000" stroke-width="3.5" stroke-linecap="round"/>
<line x1="1210.5" y1="309.4" x2="1194.5" y2="309.4" stroke="#000" stroke-width="3.5" stroke-linecap="round"/>
<text x="983.3" y="317.4" font-size="25" text-anchor="end">16</text>
<line x1="993.3" y1="333.5" x2="1002.8" y2="333.5" stroke="#000" stroke-width="3.5" stroke-linecap="round"/>
<line x1="1210.5" y1="333.5" x2="1201" y2="333.5" stroke="#000" stroke-width="3.5" stroke-linecap="round"/>
<line x1="993.3" y1="357.6" x2="1009.3" y2="357.6" stroke="#000" stroke-width="3.5" stroke-linecap="round"/>
<line x1="1210.5" y1="357.6" x2="1194.5" y2="357.6" stroke="#000" stroke-width="3.5" stroke-linecap="round"/>
<text x="983.3" y="365.6" font-size="25" text-anchor="end">12</text>
<line x1="993.3" y1="382.3" x2="1002.8" y2="382.3" stroke="#000" stroke-width="3.5" stroke-linecap="round"/>
<line x1="1210.5" y1="382.3" x2="1201" y2="382.3" stroke="#000" stroke-width="3.5" stroke-linecap="round"/>
<line x1="993.3" y1="407" x2="1009.3" y2="407" stroke="#000" stroke-width="3.5" stroke-linecap="round"/>
<line x1="1210.5" y1="407" x2="1194.5" y2="407" stroke="#000" stroke-width="3.5" stroke-linecap="round"/>
<text x="983.3" y="415" font-size="25" text-anchor="end">8</text>
<line x1="1002.6" y1="201.3" x2="1002.6" y2="217.3" stroke="#000" stroke-width="3.5" stroke-linecap="round"/>
<line x1="1002.6" y1="417.3" x2="1002.6" y2="401.3" stroke="#000" stroke-width="3.5" stroke-linecap="round"/>
<text x="1004.1" y="188.6" font-size="25" text-anchor="middle">–12</text>
<line x1="1052" y1="201.3" x2="1052" y2="210.8" stroke="#000" stroke-width="3.5" stroke-linecap="round"/>
<line x1="1052" y1="417.3" x2="1052" y2="407.8" stroke="#000" stroke-width="3.5" stroke-linecap="round"/>
<text x="1053.5" y="188.6" font-size="25" text-anchor="middle">–8</text>
<line x1="1101" y1="201.3" x2="1101" y2="217.3" stroke="#000" stroke-width="3.5" stroke-linecap="round"/>
<line x1="1101" y1="417.3" x2="1101" y2="401.3" stroke="#000" stroke-width="3.5" stroke-linecap="round"/>
<text x="1101" y="188.6" font-size="25" text-anchor="middle">0</text>
<line x1="1149.8" y1="201.3" x2="1149.8" y2="210.8" stroke="#000" stroke-width="3.5" stroke-linecap="round"/>
<line x1="1149.8" y1="417.3" x2="1149.8" y2="407.8" stroke="#000" stroke-width="3.5" stroke-linecap="round"/>
<text x="1149.8" y="188.6" font-size="25" text-anchor="middle">8</text>
<line x1="1199.3" y1="201.3" x2="1199.3" y2="217.3" stroke="#000" stroke-width="3.5" stroke-linecap="round"/>
<line x1="1199.3" y1="417.3" x2="1199.3" y2="401.3" stroke="#000" stroke-width="3.5" stroke-linecap="round"/>
<text x="1199.3" y="188.6" font-size="25" text-anchor="middle">12</text>
<text x="1067.5" y="271" font-size="25" text-anchor="start">Charge</text>
<text x="1067.5" y="297.6" font-size="25" text-anchor="start">puddle</text>
<text x="1067.5" y="323.7" font-size="25" text-anchor="start">regime</text>
<path d="M1055,361 H1159" fill="none" stroke="#000" stroke-width="2.8"/>
<path d="M1071.7,351 L1055.2,361 L1071.7,371 M1142.3,351 L1158.8,361 L1142.3,371" fill="none" stroke="#000" stroke-width="4" stroke-linejoin="miter" stroke-miterlimit="10"/>
<rect x="771" y="119.5" width="468.3" height="467.1" fill="none" stroke="#000" stroke-width="4"/>
<line x1="779.7" y1="118.5" x2="779.7" y2="133.9" stroke="#000" stroke-width="4" stroke-linecap="round"/>
<line x1="779.7" y1="587.6" x2="779.7" y2="572.2" stroke="#000" stroke-width="4" stroke-linecap="round"/>
<line x1="861.4" y1="118.5" x2="861.4" y2="133.9" stroke="#000" stroke-width="4" stroke-linecap="round"/>
<line x1="861.4" y1="587.6" x2="861.4" y2="572.2" stroke="#000" stroke-width="4" stroke-linecap="round"/>
<line x1="943.1" y1="118.5" x2="943.1" y2="133.9" stroke="#000" stroke-width="4" stroke-linecap="round"/>
<line x1="943.1" y1="587.6" x2="943.1" y2="572.2" stroke="#000" stroke-width="4" stroke-linecap="round"/>
<line x1="1024.8" y1="118.5" x2="1024.8" y2="133.9" stroke="#000" stroke-width="4" stroke-linecap="round"/>
<line x1="1024.8" y1="587.6" x2="1024.8" y2="572.2" stroke="#000" stroke-width="4" stroke-linecap="round"/>
<line x1="1106.5" y1="118.5" x2="1106.5" y2="133.9" stroke="#000" stroke-width="4" stroke-linecap="round"/>
<line x1="1106.5" y1="587.6" x2="1106.5" y2="572.2" stroke="#000" stroke-width="4" stroke-linecap="round"/>
<line x1="1188.2" y1="118.5" x2="1188.2" y2="133.9" stroke="#000" stroke-width="4" stroke-linecap="round"/>
<line x1="1188.2" y1="587.6" x2="1188.2" y2="572.2" stroke="#000" stroke-width="4" stroke-linecap="round"/>
<line x1="770" y1="578.6" x2="784.8" y2="578.6" stroke="#000" stroke-width="4" stroke-linecap="round"/>
<line x1="1240.3" y1="578.6" x2="1225.5" y2="578.6" stroke="#000" stroke-width="4" stroke-linecap="round"/>
<text x="753" y="598.3" font-size="33.5" text-anchor="end">5</text>
<line x1="770" y1="466" x2="784.8" y2="466" stroke="#000" stroke-width="4" stroke-linecap="round"/>
<line x1="1240.3" y1="466" x2="1225.5" y2="466" stroke="#000" stroke-width="4" stroke-linecap="round"/>
<text x="753" y="480.9" font-size="33.5" text-anchor="end">10</text>
<line x1="770" y1="353.4" x2="784.8" y2="353.4" stroke="#000" stroke-width="4" stroke-linecap="round"/>
<line x1="1240.3" y1="353.4" x2="1225.5" y2="353.4" stroke="#000" stroke-width="4" stroke-linecap="round"/>
<text x="753" y="364.3" font-size="33.5" text-anchor="end">15</text>
<line x1="770" y1="240.8" x2="784.8" y2="240.8" stroke="#000" stroke-width="4" stroke-linecap="round"/>
<line x1="1240.3" y1="240.8" x2="1225.5" y2="240.8" stroke="#000" stroke-width="4" stroke-linecap="round"/>
<text x="753" y="248.1" font-size="33.5" text-anchor="end">20</text>
<line x1="770" y1="128.2" x2="784.8" y2="128.2" stroke="#000" stroke-width="4" stroke-linecap="round"/>
<line x1="1240.3" y1="128.2" x2="1225.5" y2="128.2" stroke="#000" stroke-width="4" stroke-linecap="round"/>
<text x="753" y="130.1" font-size="33.5" text-anchor="end">25</text>
<text x="780.7" y="94.5" font-size="33.5" text-anchor="middle">–17</text>
<text x="780.7" y="627.5" font-size="33.5" text-anchor="middle">–2</text>
<text x="861.9" y="94.5" font-size="33.5" text-anchor="middle">0</text>
<text x="861.9" y="627.5" font-size="33.5" text-anchor="middle">0</text>
<text x="943.6" y="94.5" font-size="33.5" text-anchor="middle">17</text>
<text x="943.6" y="627.5" font-size="33.5" text-anchor="middle">2</text>
<text x="1025.3" y="94.5" font-size="33.5" text-anchor="middle">23</text>
<text x="1025.3" y="627.5" font-size="33.5" text-anchor="middle">4</text>
<text x="1107" y="94.5" font-size="33.5" text-anchor="middle">29</text>
<text x="1107" y="627.5" font-size="33.5" text-anchor="middle">6</text>
<text x="1188.7" y="94.5" font-size="33.5" text-anchor="middle">33</text>
<text x="1188.7" y="627.5" font-size="33.5" text-anchor="middle">8</text>
<text x="1004" y="40.2" font-size="33.5" text-anchor="middle">Fermi energy (meV)</text>
<text x="1005.7" y="682.6" font-size="33.5" text-anchor="middle">Carrier density (×10<tspan font-size="25" dy="-11.5">10</tspan><tspan dy="11.5"> cm</tspan><tspan font-size="25" dy="-11.5">–2</tspan><tspan dy="11.5">)</tspan></text>
<text transform="translate(685,352.1) rotate(-90)" font-size="34.5" text-anchor="middle"><tspan class="s" font-size="34">ρ</tspan><tspan class="i" font-size="25" dy="8">xx</tspan><tspan dy="-8" dx="4.5">(kΩ)</tspan></text>
</g>
<g id="pc">
<g fill="#e8192c">
<circle cx="1400.4" cy="284" r="6.5"/>
<use href="#cr" x="1440" y="196.5"/>
<use href="#cr" x="1440.4" y="202"/>
<use href="#cr" x="1440.8" y="207.6"/>
<use href="#cr" x="1441.3" y="213.1"/>
<use href="#cr" x="1441.9" y="218.6"/>
<use href="#cr" x="1442.8" y="224.1"/>
<use href="#cr" x="1444" y="229.5"/>
<use href="#cr" x="1445.2" y="234.9"/>
<use href="#cr" x="1446.6" y="240.3"/>
<use href="#cr" x="1447.9" y="245.7"/>
<use href="#cr" x="1449" y="251.1"/>
<use href="#cr" x="1450" y="256.6"/>
<use href="#cr" x="1451" y="262.1"/>
<use href="#cr" x="1451.9" y="267.5"/>
<use href="#cr" x="1452.9" y="273"/>
<use href="#cr" x="1453.8" y="278.5"/>
<use href="#cr" x="1454.8" y="284"/>
<use href="#cr" x="1455.7" y="289.4"/>
<use href="#cr" x="1456.7" y="294.9"/>
<use href="#cr" x="1457.6" y="300.4"/>
<use href="#cr" x="1458.6" y="305.8"/>
<use href="#cr" x="1459.7" y="311.3"/>
<use href="#cr" x="1460.8" y="316.7"/>
<use href="#cr" x="1462" y="322.1"/>
<use href="#cr" x="1463.4" y="327.5"/>
<use href="#cr" x="1464.8" y="332.9"/>
<use href="#cr" x="1466.2" y="338.2"/>
<use href="#cr" x="1467.7" y="343.6"/>
<use href="#cr" x="1469.4" y="348.9"/>
<use href="#cr" x="1471.1" y="354.2"/>
<use href="#cr" x="1472.9" y="359.4"/>
<use href="#cr" x="1474.8" y="364.6"/>
<use href="#cr" x="1476.8" y="369.8"/>
<use href="#cr" x="1478.9" y="375"/>
<use href="#cr" x="1481" y="380.1"/>
<use href="#cr" x="1483.3" y="385.2"/>
<use href="#cr" x="1485.6" y="390.2"/>
<use href="#cr" x="1488" y="395.2"/>
<use href="#cr" x="1490.5" y="400.1"/>
<use href="#cr" x="1493.1" y="405"/>
<use href="#cr" x="1495.8" y="409.9"/>
<use href="#cr" x="1498.6" y="414.7"/>
<use href="#cr" x="1501.5" y="419.4"/>
<use href="#cr" x="1504.5" y="424.1"/>
<use href="#cr" x="1507.6" y="428.7"/>
<use href="#cr" x="1510.8" y="433.2"/>
<use href="#cr" x="1514.2" y="437.7"/>
<use href="#cr" x="1517.6" y="442"/>
<use href="#cr" x="1521.2" y="446.2"/>
<use href="#cr" x="1525" y="450.3"/>
<use href="#cr" x="1528.9" y="454.2"/>
<use href="#cr" x="1532.9" y="458.1"/>
<use href="#cr" x="1537" y="461.9"/>
<use href="#cr" x="1541" y="465.7"/>
<use href="#cr" x="1545.1" y="469.5"/>
<use href="#cr" x="1549.1" y="473.3"/>
<use href="#cr" x="1553.1" y="477.2"/>
<use href="#cr" x="1557.3" y="480.8"/>
<use href="#cr" x="1561.7" y="484.2"/>
<use href="#cr" x="1566.2" y="487.4"/>
<use href="#cr" x="1570.9" y="490.4"/>
<use href="#cr" x="1575.7" y="493.2"/>
<use href="#cr" x="1580.5" y="495.9"/>
<use href="#cr" x="1585.4" y="498.5"/>
<use href="#cr" x="1590.4" y="501"/>
<use href="#cr" x="1595.4" y="503.4"/>
<use href="#cr" x="1600.4" y="505.8"/>
<use href="#cr" x="1605.4" y="508.2"/>
<use href="#cr" x="1610.4" y="510.6"/>
<use href="#cr" x="1615.5" y="512.9"/>
<use href="#cr" x="1620.6" y="515"/>
<use href="#cr" x="1625.8" y="517"/>
<use href="#cr" x="1631" y="518.9"/>
<use href="#cr" x="1636.2" y="520.7"/>
<use href="#cr" x="1641.5" y="522.5"/>
<use href="#cr" x="1646.8" y="524.2"/>
<use href="#cr" x="1652" y="526"/>
<use href="#cr" x="1657.3" y="527.7"/>
<use href="#cr" x="1662.6" y="529.5"/>
<use href="#cr" x="1667.9" y="531.2"/>
</g>
<g fill="#3a2f8f">
<use href="#tc" x="1402.5" y="231.7"/>
<use href="#tc" x="1402" y="250.5"/>
<use href="#tc" x="1401.3" y="271.3"/>
<use href="#tc" x="1400.8" y="285.1"/>
<use href="#tc" x="1399" y="324.5"/>
<use href="#tc" x="1436" y="240.5"/>
<use href="#tc" x="1436.5" y="245.5"/>
<use href="#tc" x="1437.8" y="250.3"/>
<use href="#tc" x="1439.2" y="255.1"/>
<use href="#tc" x="1440.5" y="260"/>
<use href="#tc" x="1441.7" y="264.8"/>
<use href="#tc" x="1442.9" y="269.7"/>
<use href="#tc" x="1444.1" y="274.5"/>
<use href="#tc" x="1445.2" y="279.4"/>
<use href="#tc" x="1446.2" y="284.3"/>
<use href="#tc" x="1447.1" y="289.2"/>
<use href="#tc" x="1448" y="294.2"/>
<use href="#tc" x="1448.8" y="299.1"/>
<use href="#tc" x="1449.6" y="304.1"/>
<use href="#tc" x="1450.4" y="309"/>
<use href="#tc" x="1451.2" y="313.9"/>
<use href="#tc" x="1452.1" y="318.9"/>
<use href="#tc" x="1452.9" y="323.8"/>
<use href="#tc" x="1453.8" y="328.7"/>
<use href="#tc" x="1454.8" y="333.6"/>
<use href="#tc" x="1455.9" y="338.5"/>
<use href="#tc" x="1457" y="343.4"/>
<use href="#tc" x="1458.1" y="348.3"/>
<use href="#tc" x="1459.4" y="353.2"/>
<use href="#tc" x="1460.6" y="358"/>
<use href="#tc" x="1461.9" y="362.8"/>
<use href="#tc" x="1463.3" y="367.6"/>
<use href="#tc" x="1464.8" y="372.4"/>
<use href="#tc" x="1466.4" y="377.2"/>
<use href="#tc" x="1468.1" y="381.9"/>
<use href="#tc" x="1469.9" y="386.6"/>
<use href="#tc" x="1471.8" y="391.2"/>
<use href="#tc" x="1473.8" y="395.8"/>
<use href="#tc" x="1476" y="400.3"/>
<use href="#tc" x="1478.2" y="404.8"/>
<use href="#tc" x="1480.5" y="409.2"/>
<use href="#tc" x="1482.9" y="413.6"/>
<use href="#tc" x="1485.4" y="417.9"/>
<use href="#tc" x="1488.1" y="422.2"/>
<use href="#tc" x="1490.8" y="426.4"/>
<use href="#tc" x="1493.7" y="430.5"/>
<use href="#tc" x="1496.7" y="434.5"/>
<use href="#tc" x="1499.7" y="438.5"/>
<use href="#tc" x="1502.8" y="442.4"/>
<use href="#tc" x="1505.9" y="446.4"/>
<use href="#tc" x="1509" y="450.3"/>
<use href="#tc" x="1512.2" y="454.1"/>
<use href="#tc" x="1515.4" y="458"/>
<use href="#tc" x="1518.8" y="461.7"/>
<use href="#tc" x="1522.2" y="465.3"/>
<use href="#tc" x="1525.7" y="468.9"/>
<use href="#tc" x="1529.4" y="472.3"/>
<use href="#tc" x="1533" y="475.7"/>
<use href="#tc" x="1536.8" y="479"/>
<use href="#tc" x="1540.6" y="482.2"/>
<use href="#tc" x="1544.6" y="485.3"/>
<use href="#tc" x="1548.7" y="488.1"/>
<use href="#tc" x="1553" y="490.7"/>
<use href="#tc" x="1557.5" y="492.9"/>
<use href="#tc" x="1562.2" y="495.4"/>
<use href="#tc" x="1565.9" y="497.3"/>
<use href="#tc" x="1571.4" y="498"/>
<use href="#tc" x="1575.1" y="501.2"/>
<use href="#tc" x="1578.8" y="501.6"/>
<use href="#tc" x="1584.3" y="503.5"/>
<use href="#tc" x="1588" y="507.2"/>
<use href="#tc" x="1591.7" y="507.8"/>
<use href="#tc" x="1595.5" y="507.1"/>
<use href="#tc" x="1599.2" y="509.8"/>
<use href="#tc" x="1603" y="509.8"/>
<use href="#tc" x="1610.6" y="512.8"/>
<use href="#tc" x="1616.3" y="517.3"/>
<use href="#tc" x="1621.9" y="516.6"/>
<use href="#tc" x="1629.5" y="519.3"/>
<use href="#tc" x="1633.3" y="523.2"/>
<use href="#tc" x="1641" y="523.5"/>
<use href="#tc" x="1646.7" y="525.8"/>
<use href="#tc" x="1650.6" y="528.1"/>
<use href="#tc" x="1654.5" y="528"/>
<use href="#tc" x="1660.3" y="529.3"/>
<use href="#tc" x="1664.1" y="530"/>
<use href="#tc" x="1671.9" y="533"/>
<use href="#tc" x="1675.8" y="534.4"/>
<use href="#tc" x="1683.6" y="534.8"/>
<use href="#tc" x="1687.5" y="536.2"/>
<use href="#tc" x="1693.4" y="536.2"/>
<use href="#tc" x="1699.3" y="537.3"/>
<use href="#tc" x="1448.6" y="305.5"/>
<use href="#tc" x="1449.9" y="310.3"/>
<use href="#tc" x="1451.3" y="315.2"/>
<use href="#tc" x="1452.8" y="320"/>
<use href="#tc" x="1454.2" y="324.8"/>
<use href="#tc" x="1455.7" y="329.6"/>
<use href="#tc" x="1457.3" y="334.3"/>
<use href="#tc" x="1458.9" y="339.1"/>
<use href="#tc" x="1460.5" y="343.8"/>
<use href="#tc" x="1462.2" y="348.6"/>
<use href="#tc" x="1463.9" y="353.3"/>
<use href="#tc" x="1465.6" y="358"/>
<use href="#tc" x="1467.4" y="362.7"/>
<use href="#tc" x="1469.3" y="367.3"/>
<use href="#tc" x="1471.2" y="372"/>
<use href="#tc" x="1473.2" y="376.6"/>
<use href="#tc" x="1475.3" y="381.1"/>
<use href="#tc" x="1477.4" y="385.7"/>
<use href="#tc" x="1479.5" y="390.2"/>
<use href="#tc" x="1481.7" y="394.7"/>
<use href="#tc" x="1484" y="399.2"/>
<use href="#tc" x="1486.3" y="403.7"/>
<use href="#tc" x="1488.7" y="408.1"/>
<use href="#tc" x="1491.1" y="412.5"/>
<use href="#tc" x="1493.6" y="416.9"/>
<use href="#tc" x="1496.1" y="421.2"/>
<use href="#tc" x="1498.7" y="425.5"/>
<use href="#tc" x="1501.3" y="429.8"/>
<use href="#tc" x="1504" y="434"/>
<use href="#tc" x="1506.9" y="438.1"/>
<use href="#tc" x="1509.8" y="442.2"/>
<use href="#tc" x="1512.8" y="446.2"/>
<use href="#tc" x="1516" y="450.1"/>
<use href="#tc" x="1519.3" y="453.9"/>
<use href="#tc" x="1522.6" y="457.6"/>
<use href="#tc" x="1526.1" y="461.3"/>
<use href="#tc" x="1529.6" y="464.9"/>
<use href="#tc" x="1533.1" y="468.4"/>
<use href="#tc" x="1536.7" y="472"/>
<use href="#tc" x="1540.2" y="475.5"/>
<use href="#tc" x="1543.8" y="479"/>
<use href="#tc" x="1547.5" y="482.4"/>
<use href="#tc" x="1551.3" y="485.7"/>
<use href="#tc" x="1555.3" y="488.8"/>
<use href="#tc" x="1559.4" y="491.6"/>
<use href="#tc" x="1563.7" y="494.3"/>
<use href="#tc" x="1568" y="496.7"/>
<use href="#tc" x="1572.5" y="499"/>
<use href="#tc" x="1577.1" y="501.1"/>
<use href="#tc" x="1581.7" y="503"/>
<use href="#tc" x="1706.1" y="538.7"/>
<use href="#tc" x="1713.3" y="540.1"/>
<use href="#tc" x="1720.5" y="543"/>
<use href="#tc" x="1723.4" y="541.6"/>
<use href="#tc" x="1735.4" y="545.2"/>
<use href="#tc" x="1741.5" y="545.2"/>
<use href="#tc" x="1747" y="546.9"/>
<use href="#tc" x="1757.6" y="547.3"/>
<use href="#tc" x="1765.4" y="549.2"/>
<use href="#tc" x="1769.4" y="549.2"/>
<use href="#tc" x="1786.4" y="551"/>
<use href="#tc" x="1790.4" y="552.1"/>
<use href="#tc" x="1800.3" y="553.1"/>
<use href="#tc" x="1817.5" y="555"/>
</g>
<rect x="1381.3" y="158.6" width="67.6" height="155" fill="none" stroke="#000" stroke-width="5.6" stroke-dasharray="10.8 5.2"/>
<line x1="1449" y1="158.6" x2="1581" y2="174.6" stroke="#000" stroke-width="5.2" stroke-linecap="round"/>
<line x1="1449" y1="313.6" x2="1570" y2="392.8" stroke="#000" stroke-width="5.2" stroke-linecap="round"/>
<rect x="1596.5" y="185.4" width="225.7" height="224.3" fill="#fafafa"/>
<rect x="1657" y="185.4" width="116.8" height="224.3" fill="#f08080"/>
<g fill="#e8192c">
<use href="#cs" x="1654" y="373"/>
<use href="#cs" x="1777.3" y="279.8"/>
<use href="#cs" x="1778" y="274.5"/>
<use href="#cs" x="1784.4" y="274.5"/>
<use href="#cs" x="1787.4" y="284.7"/>
<use href="#cs" x="1790.5" y="291"/>
<use href="#cs" x="1793" y="297.9"/>
<use href="#cs" x="1796" y="304.6"/>
<use href="#cs" x="1799.5" y="312.2"/>
<use href="#cs" x="1803.2" y="321.6"/>
<use href="#cs" x="1808.1" y="333.6"/>
<use href="#cs" x="1813" y="345.6"/>
</g>
<g fill="#3a2f8f">
<use href="#ts" x="1660.3" y="316.7"/>
<use href="#ts" x="1658.8" y="338"/>
<use href="#ts" x="1657" y="362.5"/>
<use href="#ts" x="1655" y="378"/>
<use href="#ts" x="1771.3" y="326.9"/>
<use href="#ts" x="1776.5" y="330.7"/>
<use href="#ts" x="1780.3" y="333.3"/>
<use href="#ts" x="1769.9" y="328.3"/>
<use href="#ts" x="1779.4" y="335.8"/>
<use href="#ts" x="1782" y="343.9"/>
<use href="#ts" x="1784.6" y="350.9"/>
<use href="#ts" x="1787.6" y="357.8"/>
<use href="#ts" x="1790.7" y="363.9"/>
<use href="#ts" x="1793.3" y="369.1"/>
<use href="#ts" x="1796.3" y="376"/>
<use href="#ts" x="1798.5" y="381.3"/>
<use href="#ts" x="1801.1" y="389.1"/>
<use href="#ts" x="1803.3" y="393.2"/>
<use href="#ts" x="1805.5" y="397.2"/>
</g>
<rect x="1596.5" y="185.4" width="225.7" height="224.3" fill="none" stroke="#000" stroke-width="3.5"/>
<line x1="1595.5" y1="193.7" x2="1613.5" y2="193.7" stroke="#000" stroke-width="3.5" stroke-linecap="round"/>
<line x1="1823.2" y1="193.7" x2="1805.2" y2="193.7" stroke="#000" stroke-width="3.5" stroke-linecap="round"/>
<text x="1588" y="202.9" font-size="28" text-anchor="end">8</text>
<line x1="1595.5" y1="228.5" x2="1606" y2="228.5" stroke="#000" stroke-width="3.5" stroke-linecap="round"/>
<line x1="1823.2" y1="228.5" x2="1812.7" y2="228.5" stroke="#000" stroke-width="3.5" stroke-linecap="round"/>
<line x1="1595.5" y1="263.2" x2="1613.5" y2="263.2" stroke="#000" stroke-width="3.5" stroke-linecap="round"/>
<line x1="1823.2" y1="263.2" x2="1805.2" y2="263.2" stroke="#000" stroke-width="3.5" stroke-linecap="round"/>
<text x="1588" y="272.4" font-size="28" text-anchor="end">7</text>
<line x1="1595.5" y1="297.6" x2="1606" y2="297.6" stroke="#000" stroke-width="3.5" stroke-linecap="round"/>
<line x1="1823.2" y1="297.6" x2="1812.7" y2="297.6" stroke="#000" stroke-width="3.5" stroke-linecap="round"/>
<line x1="1595.5" y1="332" x2="1613.5" y2="332" stroke="#000" stroke-width="3.5" stroke-linecap="round"/>
<line x1="1823.2" y1="332" x2="1805.2" y2="332" stroke="#000" stroke-width="3.5" stroke-linecap="round"/>
<text x="1588" y="341.2" font-size="28" text-anchor="end">6</text>
<line x1="1595.5" y1="366.4" x2="1606" y2="366.4" stroke="#000" stroke-width="3.5" stroke-linecap="round"/>
<line x1="1823.2" y1="366.4" x2="1812.7" y2="366.4" stroke="#000" stroke-width="3.5" stroke-linecap="round"/>
<line x1="1595.5" y1="401.2" x2="1613.5" y2="401.2" stroke="#000" stroke-width="3.5" stroke-linecap="round"/>
<line x1="1823.2" y1="401.2" x2="1805.2" y2="401.2" stroke="#000" stroke-width="3.5" stroke-linecap="round"/>
<text x="1588" y="410.4" font-size="28" text-anchor="end">5</text>
<line x1="1605" y1="184.4" x2="1605" y2="200.4" stroke="#000" stroke-width="3.5" stroke-linecap="round"/>
<line x1="1605" y1="410.7" x2="1605" y2="394.7" stroke="#000" stroke-width="3.5" stroke-linecap="round"/>
<text x="1605.5" y="167.3" font-size="28" text-anchor="middle">–12</text>
<line x1="1657.1" y1="184.4" x2="1657.1" y2="193.9" stroke="#000" stroke-width="3.5" stroke-linecap="round"/>
<line x1="1657.1" y1="410.7" x2="1657.1" y2="401.2" stroke="#000" stroke-width="3.5" stroke-linecap="round"/>
<text x="1657.6" y="167.3" font-size="28" text-anchor="middle">–8</text>
<line x1="1709.4" y1="184.4" x2="1709.4" y2="200.4" stroke="#000" stroke-width="3.5" stroke-linecap="round"/>
<line x1="1709.4" y1="410.7" x2="1709.4" y2="394.7" stroke="#000" stroke-width="3.5" stroke-linecap="round"/>
<text x="1709.4" y="167.3" font-size="28" text-anchor="middle">0</text>
<line x1="1761.2" y1="184.4" x2="1761.2" y2="193.9" stroke="#000" stroke-width="3.5" stroke-linecap="round"/>
<line x1="1761.2" y1="410.7" x2="1761.2" y2="401.2" stroke="#000" stroke-width="3.5" stroke-linecap="round"/>
<text x="1761.2" y="167.3" font-size="28" text-anchor="middle">8</text>
<line x1="1813.7" y1="184.4" x2="1813.7" y2="200.4" stroke="#000" stroke-width="3.5" stroke-linecap="round"/>
<line x1="1813.7" y1="410.7" x2="1813.7" y2="394.7" stroke="#000" stroke-width="3.5" stroke-linecap="round"/>
<text x="1813.7" y="167.3" font-size="28" text-anchor="middle">12</text>
<text x="1604.2" y="447.3" font-size="28" text-anchor="middle">–1</text>
<text x="1709.4" y="447.3" font-size="28" text-anchor="middle">0</text>
<text x="1812.3" y="447.3" font-size="28" text-anchor="middle">–1</text>
<text x="1676.5" y="246.8" font-size="25" text-anchor="start">Charge</text>
<text x="1676.5" y="272.8" font-size="25" text-anchor="start">puddle</text>
<text x="1676.5" y="298.9" font-size="25" text-anchor="start">regime</text>
<path d="M1664,353.7 H1767" fill="none" stroke="#000" stroke-width="2.8"/>
<path d="M1680.3,343.7 L1663.8,353.7 L1680.3,363.7 M1751,343.7 L1767.5,353.7 L1751,363.7" fill="none" stroke="#000" stroke-width="4" stroke-linejoin="miter" stroke-miterlimit="10"/>
<rect x="1376.7" y="118.2" width="468.7" height="467.4" fill="none" stroke="#000" stroke-width="4"/>
<line x1="1417.7" y1="117.2" x2="1417.7" y2="132.4" stroke="#000" stroke-width="4" stroke-linecap="round"/>
<line x1="1417.7" y1="586.6" x2="1417.7" y2="571.4" stroke="#000" stroke-width="4" stroke-linecap="round"/>
<line x1="1482.1" y1="117.2" x2="1482.1" y2="125.9" stroke="#000" stroke-width="4" stroke-linecap="round"/>
<line x1="1482.1" y1="586.6" x2="1482.1" y2="577.9" stroke="#000" stroke-width="4" stroke-linecap="round"/>
<line x1="1546.4" y1="117.2" x2="1546.4" y2="132.4" stroke="#000" stroke-width="4" stroke-linecap="round"/>
<line x1="1546.4" y1="586.6" x2="1546.4" y2="571.4" stroke="#000" stroke-width="4" stroke-linecap="round"/>
<line x1="1610.8" y1="117.2" x2="1610.8" y2="125.9" stroke="#000" stroke-width="4" stroke-linecap="round"/>
<line x1="1610.8" y1="586.6" x2="1610.8" y2="577.9" stroke="#000" stroke-width="4" stroke-linecap="round"/>
<line x1="1675.1" y1="117.2" x2="1675.1" y2="132.4" stroke="#000" stroke-width="4" stroke-linecap="round"/>
<line x1="1675.1" y1="586.6" x2="1675.1" y2="571.4" stroke="#000" stroke-width="4" stroke-linecap="round"/>
<line x1="1739.5" y1="117.2" x2="1739.5" y2="125.9" stroke="#000" stroke-width="4" stroke-linecap="round"/>
<line x1="1739.5" y1="586.6" x2="1739.5" y2="577.9" stroke="#000" stroke-width="4" stroke-linecap="round"/>
<line x1="1803.9" y1="117.2" x2="1803.9" y2="132.4" stroke="#000" stroke-width="4" stroke-linecap="round"/>
<line x1="1803.9" y1="586.6" x2="1803.9" y2="571.4" stroke="#000" stroke-width="4" stroke-linecap="round"/>
<line x1="1375.7" y1="485.5" x2="1391.7" y2="485.5" stroke="#000" stroke-width="4" stroke-linecap="round"/>
<line x1="1846.4" y1="485.5" x2="1830.4" y2="485.5" stroke="#000" stroke-width="4" stroke-linecap="round"/>
<text x="1358.3" y="496.5" font-size="33.5" text-anchor="end">2</text>
<line x1="1375.7" y1="366.1" x2="1391.7" y2="366.1" stroke="#000" stroke-width="4" stroke-linecap="round"/>
<line x1="1846.4" y1="366.1" x2="1830.4" y2="366.1" stroke="#000" stroke-width="4" stroke-linecap="round"/>
<text x="1358.3" y="375.4" font-size="33.5" text-anchor="end">4</text>
<line x1="1375.7" y1="246.7" x2="1391.7" y2="246.7" stroke="#000" stroke-width="4" stroke-linecap="round"/>
<line x1="1846.4" y1="246.7" x2="1830.4" y2="246.7" stroke="#000" stroke-width="4" stroke-linecap="round"/>
<text x="1358.3" y="256.3" font-size="33.5" text-anchor="end">6</text>
<line x1="1375.7" y1="127.3" x2="1391.7" y2="127.3" stroke="#000" stroke-width="4" stroke-linecap="round"/>
<line x1="1846.4" y1="127.3" x2="1830.4" y2="127.3" stroke="#000" stroke-width="4" stroke-linecap="round"/>
<text x="1358.3" y="135.9" font-size="33.5" text-anchor="end">8</text>
<text x="1358.3" y="596.9" font-size="33.5" text-anchor="end">0</text>
<text x="1418.2" y="94.5" font-size="33.5" text-anchor="middle">0</text>
<text x="1418.2" y="627.5" font-size="33.5" text-anchor="middle">0</text>
<text x="1546.9" y="94.5" font-size="33.5" text-anchor="middle">23</text>
<text x="1546.9" y="627.5" font-size="33.5" text-anchor="middle">4</text>
<text x="1675.6" y="94.5" font-size="33.5" text-anchor="middle">33</text>
<text x="1675.6" y="627.5" font-size="33.5" text-anchor="middle">8</text>
<text x="1804.4" y="94.5" font-size="33.5" text-anchor="middle">40</text>
<text x="1804.4" y="627.5" font-size="33.5" text-anchor="middle">12</text>
<text x="1611.5" y="40.2" font-size="33.5" text-anchor="middle">Fermi energy (meV)</text>
<text x="1612.5" y="682.6" font-size="33.5" text-anchor="middle">Carrier density (×10<tspan font-size="25" dy="-11.5">10</tspan><tspan dy="11.5"> cm</tspan><tspan font-size="25" dy="-11.5">–2</tspan><tspan dy="11.5">)</tspan></text>
<text transform="translate(1312.5,353) rotate(-90)" font-size="33.5" text-anchor="middle">Mobility (×10<tspan font-size="25" dy="-11.5">4</tspan><tspan dy="11.5"> cm</tspan><tspan font-size="25" dy="-11.5">2</tspan><tspan dy="11.5"> V</tspan><tspan font-size="25" dy="-11.5">–1</tspan><tspan dy="11.5"> s</tspan><tspan font-size="25" dy="-11.5">–1</tspan><tspan dy="11.5">)</tspan></text>
</g>
</svg></body></html>
